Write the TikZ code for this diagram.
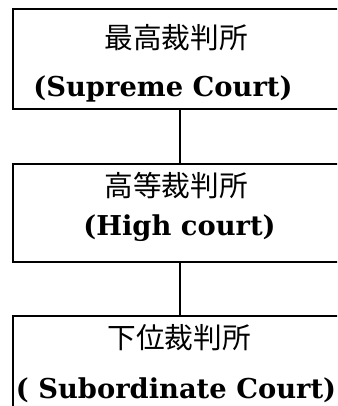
\documentclass[tikz,border=0pt]{standalone}
\usepackage{fontspec}
\setmainfont{DejaVu Serif}
\newfontfamily\cjk{Noto Sans CJK JP}
\usetikzlibrary{positioning}

\begin{document}
\begin{tikzpicture}[x=0.75pt,y=-0.75pt,
  court/.style={draw,line width=1.5pt,rectangle,minimum width=250.5pt,minimum height=75pt},
  jp/.style={font=\cjk\fontsize{21.5}{24}\selectfont,inner sep=0pt},
  en/.style={font=\bfseries\fontsize{20.5}{24}\selectfont,inner sep=0pt}]
  \useasboundingbox (0,0) rectangle (337,406);
  \clip (0,0) rectangle (337,406);
  % court boxes
  \node[court] (sc) at (180,59) {};
  \node[court,below=39.75pt of sc,minimum height=73.5pt] (hc) {};
  \node[court,below=39pt of hc] (lc) {};
  % labels
  \node[jp] (scjp) at (176,38) {最高裁判所};
  \node[en] (scen) at (163,89) {(Supreme Court)};
  \node[jp] (hcjp) at (176,186) {高等裁判所};
  \node[en] (hcen) at (179.5,228) {(High court)};
  \node[jp] (lcjp) at (179,337.5) {下位裁判所};
  \node[en] (lcen) at (176,390) {( Subordinate Court)};
  % links
  \draw[line width=1.5pt] (sc) -- (hc);
  \draw[line width=1.5pt] (hc) -- (lc);
\end{tikzpicture}
\end{document}
